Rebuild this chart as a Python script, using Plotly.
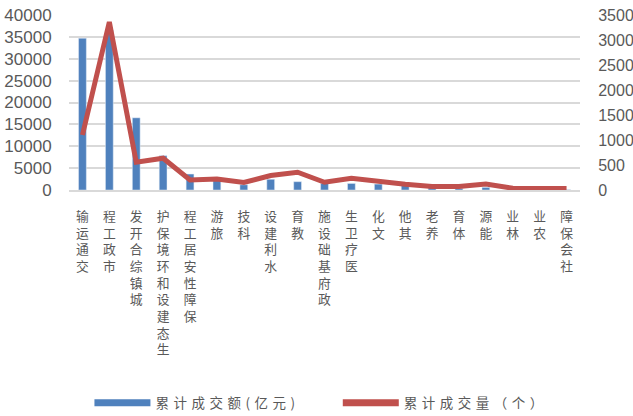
import plotly.graph_objects as go

categories = ["交通运输", "市政工程", "城镇综合开发", "生态建设和环境保护", "保障性安居工程",
              "旅游", "科技", "水利建设", "教育", "政府基础设施", "医疗卫生", "文化",
              "其他", "养老", "体育", "能源", "林业", "农业", "社会保障"]
amount = [34700, 36500, 16500, 7850, 3650, 2300, 1200, 2450, 1900, 1500, 1500, 1350,
          1150, 750, 350, 600, 150, 100, 80]
count = [1100, 3360, 555, 635, 200, 220, 150, 290, 355, 155, 235, 165,
         115, 70, 70, 120, 35, 30, 30]
left_ticks = [0, 5000, 10000, 15000, 20000, 25000, 30000, 35000, 40000]
right_ticks = [0, 500, 1000, 1500, 2000, 2500, 3000, 3500]
name_amount = "累计成交额(亿元)"
name_count = "累计成交量（个）"

BLUE = "#4F81BD"
RED = "#C0504D"
GRID = "#D9D9D9"
TXT = "#595959"
CJK = "Noto Sans CJK SC"
NUM = "Liberation Sans, Arial"

def vert(s):
    return "<br>".join(reversed(list(s)))

def spaced(s):
    return "\u2004".join(list(s))

tick_text = [vert(c) for c in categories]

fig = go.Figure()
fig.add_trace(go.Bar(x=categories, y=amount, marker_color=BLUE, showlegend=False,
                     yaxis="y", width=0.29))
fig.add_trace(go.Scatter(x=categories, y=count, mode="lines", yaxis="y2",
                         line=dict(color=RED, width=5), showlegend=False))
# legend entries
fig.add_trace(go.Scatter(x=[None], y=[None], mode="lines", name=spaced(name_amount),
                         line=dict(color=BLUE, width=7), legend="legend"))
fig.add_trace(go.Scatter(x=[None], y=[None], mode="lines", name=spaced(name_count),
                         line=dict(color=RED, width=7), legend="legend2", yaxis="y2"))

fig.update_layout(
    width=633, height=416,
    margin=dict(l=69, r=53, t=15, b=226, autoexpand=False),
    paper_bgcolor="white", plot_bgcolor="white",
    bargap=0.71,
    xaxis=dict(tickmode="array", tickvals=categories, ticktext=tick_text, tickangle=0,
               tickfont=dict(family=CJK, size=12.8, color=TXT),
               showline=True, linecolor=GRID, linewidth=1.5, showgrid=False,
               ticks="outside", ticklen=14, tickcolor="rgba(0,0,0,0)", automargin=False),
    yaxis=dict(range=[0, 40000], tickmode="array", tickvals=left_ticks,
               ticktext=[str(v) for v in left_ticks],
               showgrid=True, gridcolor=GRID, gridwidth=1.5, zeroline=False,
               tickfont=dict(family=NUM, size=17, color=TXT), automargin=False,
               ticks="outside", ticklen=13, tickcolor="rgba(0,0,0,0)"),
    yaxis2=dict(range=[0, 3500], tickmode="array", tickvals=right_ticks,
                ticktext=[str(v) for v in right_ticks], overlaying="y", side="right",
                showgrid=False, zeroline=False, automargin=False,
                tickfont=dict(family=NUM, size=16, color=TXT),
                ticks="outside", ticklen=14, tickcolor="rgba(0,0,0,0)"),
    legend=dict(x=0.040, y=-1.217, xanchor="left", yanchor="middle", orientation="h",
                itemwidth=56, font=dict(family=CJK, size=13.5, color=TXT),
                bgcolor="rgba(0,0,0,0)"),
    legend2=dict(x=0.526, y=-1.217, xanchor="left", yanchor="middle", orientation="h",
                 itemwidth=56, font=dict(family=CJK, size=13.5, color=TXT),
                 bgcolor="rgba(0,0,0,0)"),
)

fig.write_html("out.html")
